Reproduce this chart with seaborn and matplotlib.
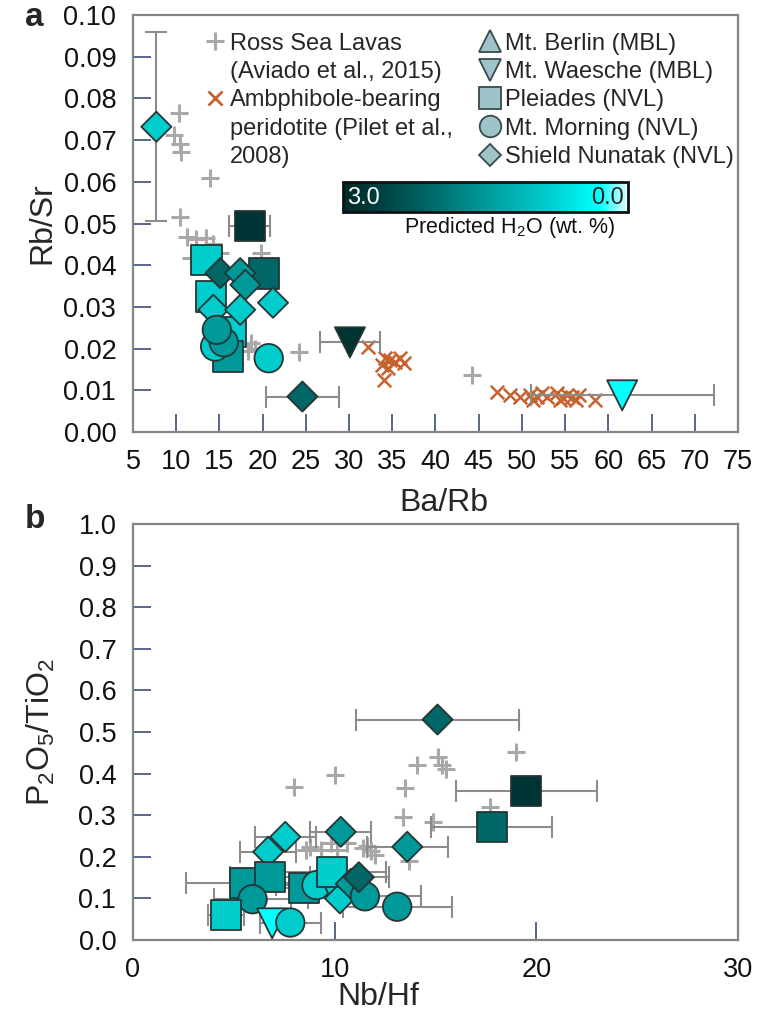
import numpy as np
import pandas as pd
import matplotlib
matplotlib.use("Agg")
import matplotlib.pyplot as plt
import seaborn as sns
from matplotlib.colors import LinearSegmentedColormap, Normalize
from matplotlib.cm import ScalarMappable
from matplotlib.lines import Line2D

sns.set_theme(style="white")
plt.rcParams["font.family"] = ["Liberation Sans", "DejaVu Sans"]
plt.rcParams["mathtext.fontset"] = "custom"
plt.rcParams["mathtext.rm"] = "Liberation Sans"

# ---------------- data: panel a (Ba/Rb vs Rb/Sr) ----------------
ross_barb = [10.3, 9.8, 10.4, 10.6, 13.9, 10.4, 11.2, 12.3, 13.4, 14.3, 11.7,
             15.1, 19.8, 18.6, 19.1, 18.3, 24.2, 44.2]
ross_rbsr = [0.0766, 0.0712, 0.0690, 0.0672, 0.0610, 0.0516, 0.0468, 0.0462,
             0.0466, 0.0452, 0.0418, 0.0430, 0.0430, 0.0213, 0.0200, 0.0195,
             0.0193, 0.0136]

amph_barb = [32.2, 34.2, 33.8, 34.0, 34.7, 35.3, 35.9, 36.3, 34.5, 47.1, 48.6,
             49.8, 50.9, 51.3, 51.7, 52.3, 52.9, 54.0, 54.4, 54.8, 55.2, 55.8,
             56.2, 56.6, 58.5]
amph_rbsr = [0.0205, 0.0177, 0.0161, 0.0125, 0.0173, 0.0169, 0.0177, 0.0165,
             0.0153, 0.0097, 0.0089, 0.0085, 0.0089, 0.0077, 0.0085, 0.0093,
             0.0085, 0.0093, 0.0077, 0.0081, 0.0089, 0.0085, 0.0077, 0.0089,
             0.0077]

site_a = ["Pleiades (NVL)"] * 6 + ["Shield Nunatak (NVL)"] * 8 + \
         ["Mt. Morning (NVL)"] * 4 + ["Mt. Waesche (MBL)"] * 2
barb_a = [18.5, 13.5, 20.2, 14.0, 16.3, 16.0,
          7.7, 15.1, 17.4, 18.0, 14.3, 17.4, 21.2, 24.6,
          14.5, 20.7, 15.5, 14.7,
          30.1, 61.6]
rbsr_a = [0.0494, 0.0413, 0.0380, 0.0325, 0.0240, 0.0181,
          0.0732, 0.0381, 0.0381, 0.0353, 0.0293, 0.0293, 0.0310, 0.0085,
          0.0205, 0.0177, 0.0215, 0.0245,
          0.0215, 0.0088]
h2o_a = [2.8, 0.85, 2.1, 0.85, 0.85, 1.5,
         0.85, 2.1, 1.5, 1.5, 0.85, 0.85, 0.85, 2.1,
         0.85, 0.85, 1.5, 1.5,
         2.8, 0.3]
barb_err_a = [2.35, 0, 0, 0, 0, 0,
              0, 0, 0, 0, 0, 0, 0, 4.25,
              0, 0, 0, 0,
              3.5, 10.6]
rbsr_err_a = [0, 0, 0, 0, 0, 0,
              0.0227, 0, 0, 0, 0, 0, 0, 0,
              0, 0, 0, 0,
              0, 0]

# ---------------- data: panel b (Nb/Hf vs P2O5/TiO2) ----------------
ross_nbhf = [10.0, 14.1, 15.1, 15.3, 15.5, 19.0, 13.5, 13.4, 14.9, 17.7, 8.0,
             8.6, 9.3, 9.8, 10.6, 11.6, 11.8, 12.0, 8.8, 10.1, 11.4, 13.7]
ross_pti = [0.397, 0.420, 0.440, 0.420, 0.410, 0.453, 0.365, 0.296, 0.284,
            0.320, 0.368, 0.216, 0.216, 0.232, 0.232, 0.226, 0.214, 0.204,
            0.224, 0.216, 0.220, 0.190]

site_b = ["Shield Nunatak (NVL)", "Pleiades (NVL)", "Pleiades (NVL)",
          "Shield Nunatak (NVL)", "Shield Nunatak (NVL)", "Shield Nunatak (NVL)",
          "Shield Nunatak (NVL)", "Pleiades (NVL)", "Pleiades (NVL)",
          "Mt. Morning (NVL)", "Pleiades (NVL)", "Mt. Waesche (MBL)",
          "Mt. Morning (NVL)", "Pleiades (NVL)", "Mt. Morning (NVL)",
          "Mt. Waesche (MBL)", "Shield Nunatak (NVL)", "Pleiades (NVL)",
          "Shield Nunatak (NVL)", "Mt. Morning (NVL)", "Shield Nunatak (NVL)",
          "Mt. Morning (NVL)"]
nbhf_b = [15.1, 19.5, 17.8, 13.6, 10.3, 6.7, 7.55, 5.55, 6.8, 5.93, 4.6, 6.9,
          7.8, 8.5, 9.1, 9.93, 10.26, 9.85, 10.8, 11.5, 11.2, 13.1]
pti_b = [0.530, 0.358, 0.272, 0.224, 0.260, 0.212, 0.248, 0.136, 0.152, 0.098,
         0.060, 0.040, 0.042, 0.124, 0.132, 0.124, 0.100, 0.164, 0.135, 0.105,
         0.151, 0.080]
h2o_b = [2.1, 2.8, 2.1, 1.5, 1.5, 0.85, 0.85, 1.5, 1.5, 1.5,
         0.85, 0.3, 0.85, 1.5, 0.85, 0.85, 0.85, 0.85, 1.5, 1.5,
         2.1, 1.5]
nbhf_err_b = [4.05, 3.5, 3.0, 2.0, 1.5, 1.4, 1.5, 2.9, 2.0, 1.9, 0.9, 0,
              1.5, 2.5, 2.0, 1.8, 1.6, 2.7, 0, 2.8, 1.5, 2.7]

# ---------------- styling ----------------
sites = ["Mt. Berlin (MBL)", "Mt. Waesche (MBL)", "Pleiades (NVL)",
         "Mt. Morning (NVL)", "Shield Nunatak (NVL)"]
marker_map = dict(zip(sites, ["^", "v", "s", "o", "D"]))
size_map = dict(zip(sites, [470, 470, 470, 420, 235]))

h2o_cmap = LinearSegmentedColormap.from_list(
    "h2o",
    [(0.0, "#e2ffff"), (0.1, "#00ffff"), (0.283, "#00cccc"), (0.5, "#009999"),
     (0.7, "#006666"), (0.933, "#003333"), (1.0, "#022a2a")])
h2o_norm = Normalize(vmin=0.0, vmax=3.0)

ERR_C = "#8c8c8c"
EDGE_C = "#263535"
TICK_C = "#4b5b84"
SPINE_C = "#858585"
ROSS_C = "#a8a8a8"
AMPH_C = "#c9622f"

fig = plt.figure(figsize=(7.58, 10.16), dpi=100)
ax_a = fig.add_axes([133 / 758, 1 - 432 / 1016, 605 / 758, 417 / 1016])
ax_b = fig.add_axes([133 / 758, 1 - 940 / 1016, 605 / 758, 416 / 1016])


def draw_samples(ax, df, x, y):
    sns.scatterplot(data=df, x=x, y=y, hue="H2O", hue_norm=h2o_norm,
                    palette=h2o_cmap, style="site", markers=marker_map,
                    size="site", sizes=size_map, edgecolor=EDGE_C,
                    linewidth=1.3, legend=False, ax=ax, zorder=5)


def style_axes(ax):
    for side in ["left", "bottom", "top", "right"]:
        ax.spines[side].set_visible(True)
        ax.spines[side].set_color(SPINE_C)
        ax.spines[side].set_linewidth(1.6)
    ax.tick_params(axis="both", which="major", direction="in", length=13,
                   width=1.3, color=TICK_C, labelsize=19.5,
                   labelcolor="#111111", pad=12, bottom=True, left=True,
                   top=False, right=False)


# ----- panel a -----
df_a = pd.DataFrame({"site": site_a, "Ba/Rb": barb_a, "Rb/Sr": rbsr_a,
                     "H2O": h2o_a, "xerr": barb_err_a, "yerr": rbsr_err_a})
sns.scatterplot(x=ross_barb, y=ross_rbsr, marker="+", s=170, color=ROSS_C,
                linewidth=2.2, ax=ax_a, zorder=2)
sns.scatterplot(x=amph_barb, y=amph_rbsr, marker="x", s=95, color=AMPH_C,
                linewidth=1.8, ax=ax_a, zorder=3)
ex = df_a[df_a["xerr"] > 0]
ax_a.errorbar(ex["Ba/Rb"], ex["Rb/Sr"], xerr=ex["xerr"], fmt="none",
              ecolor=ERR_C, elinewidth=1.5, capsize=8, capthick=1.5, zorder=4)
ey = df_a[df_a["yerr"] > 0]
ax_a.errorbar(ey["Ba/Rb"], ey["Rb/Sr"], yerr=ey["yerr"], fmt="none",
              ecolor=ERR_C, elinewidth=1.5, capsize=8, capthick=1.5, zorder=4)
draw_samples(ax_a, df_a, "Ba/Rb", "Rb/Sr")

ax_a.set_xlim(5, 75)
ax_a.set_ylim(0, 0.10)
ax_a.set_xticks(np.arange(5, 76, 5))
ax_a.set_yticks(np.arange(0, 0.1001, 0.01))
ax_a.set_yticklabels([f"{v:.2f}" for v in np.arange(0, 0.1001, 0.01)])
style_axes(ax_a)
ax_a.set_xlabel("Ba/Rb", fontsize=23)
ax_a.set_ylabel("Rb/Sr", fontsize=23)
ax_a.xaxis.set_label_coords(0.514, -0.135)
ax_a.yaxis.set_label_coords(-0.125, 0.50)

# legends
ref_handles = [
    Line2D([], [], marker="+", color=ROSS_C, linestyle="none",
           markersize=13, markeredgewidth=2.2),
    Line2D([], [], linestyle="none"),
    Line2D([], [], marker="x", color=AMPH_C, linestyle="none",
           markersize=10, markeredgewidth=2.0),
    Line2D([], [], linestyle="none"),
    Line2D([], [], linestyle="none"),
]
ref_labels = ["Ross Sea Lavas", "(Aviado et al., 2015)", "Ambphibole-bearing",
              "peridotite (Pilet et al.,", "2008)"]
leg1 = ax_a.legend(ref_handles, ref_labels, loc="upper left",
                   bbox_to_anchor=(0.118, 0.958), frameon=False,
                   fontsize=17.0, handlelength=0.9, handletextpad=0.17,
                   labelspacing=0.27, borderaxespad=0, borderpad=0)
ax_a.add_artist(leg1)

site_handles = [Line2D([], [], marker=marker_map[s], linestyle="none",
                       markersize=(11 if marker_map[s] == "D" else 15.5),
                       markerfacecolor="#9ec4ca", markeredgecolor="#3a4a4c",
                       markeredgewidth=1.3) for s in sites]
leg2 = ax_a.legend(site_handles, sites, loc="upper left",
                   bbox_to_anchor=(0.572, 0.958), frameon=False,
                   fontsize=17.0, handlelength=0.9, handletextpad=0.2,
                   labelspacing=0.27, borderaxespad=0, borderpad=0)

# colour bar for predicted water content
cax = fig.add_axes([343 / 758, 1 - 212 / 1016, 285 / 758, 30 / 1016])
cb = fig.colorbar(ScalarMappable(norm=h2o_norm, cmap=h2o_cmap), cax=cax,
                  orientation="horizontal")
cax.invert_xaxis()
cax.set_xticks([])
cb.outline.set_edgecolor("#111111")
cb.outline.set_linewidth(2.0)
cax.text(0.015, 0.47, "3.0", transform=cax.transAxes, ha="left", va="center",
         color="white", fontsize=17)
cax.text(0.985, 0.47, "0.0", transform=cax.transAxes, ha="right",
         va="center", color="#222222", fontsize=17)
fig.text(510 / 758, 1 - 228 / 1016, "Predicted H$_2$O (wt. %)",
         ha="center", va="center", fontsize=15.5, color="#111111")

# ----- panel b -----
df_b = pd.DataFrame({"site": site_b, "Nb/Hf": nbhf_b, "P2O5/TiO2": pti_b,
                     "H2O": h2o_b, "xerr": nbhf_err_b})
sns.scatterplot(x=ross_nbhf, y=ross_pti, marker="+", s=170, color=ROSS_C,
                linewidth=2.2, ax=ax_b, zorder=2)
exb = df_b[df_b["xerr"] > 0]
ax_b.errorbar(exb["Nb/Hf"], exb["P2O5/TiO2"], xerr=exb["xerr"], fmt="none",
              ecolor=ERR_C, elinewidth=1.5, capsize=8, capthick=1.5, zorder=4)
draw_samples(ax_b, df_b, "Nb/Hf", "P2O5/TiO2")

ax_b.set_xlim(0, 30)
ax_b.set_ylim(0, 1.0)
ax_b.set_xticks([0, 10, 20, 30])
ax_b.set_yticks(np.arange(0, 1.001, 0.1))
ax_b.set_yticklabels([f"{v:.1f}" for v in np.arange(0, 1.001, 0.1)])
style_axes(ax_b)
ax_b.set_xlabel("Nb/Hf", fontsize=23)
ax_b.set_ylabel("P$_2$O$_5$/TiO$_2$", fontsize=23)
ax_b.xaxis.set_label_coords(0.405, -0.10)
ax_b.yaxis.set_label_coords(-0.125, 0.50)

# panel letters
fig.text(25 / 758, 1 - 18 / 1016, "a", fontsize=24, fontweight="bold",
         ha="left", va="center")
fig.text(25 / 758, 1 - 520 / 1016, "b", fontsize=24, fontweight="bold",
         ha="left", va="center")

fig.savefig("out.png", dpi=100, facecolor="white")
